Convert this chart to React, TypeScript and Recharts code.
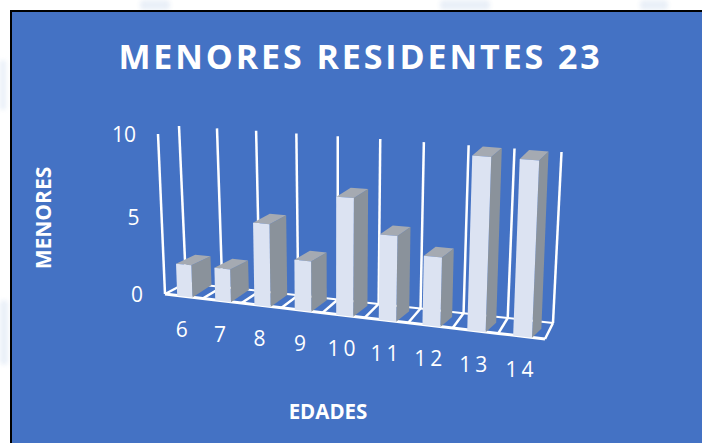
import { BarChart, Bar, XAxis, YAxis, CartesianGrid } from 'recharts'

const ages = ['6', '7', '8', '9', '10', '11', '12', '13', '14']
const counts = [2, 2, 5, 3, 7, 5, 4, 10, 10]
const valueTicks = [0, 5, 10]
const maxValue = 10

const chartData = ages.map((age, i) => ({ age, count: counts[i] }))

const W = 702
const H = 443
const PLOT_LEFT = 165
const PLOT_TOP = 134
const PLOT_W = 380
const PLOT_H = 160
const FONT = '"Open Sans", sans-serif'

// faint bits of the page watermark showing round the panel
const watermark = [
    { left: 640, top: 0, width: 28, height: 10 },
    { left: 440, top: 0, width: 50, height: 10 },
    { left: 140, top: 0, width: 30, height: 10 },
    { left: 0, top: 300, width: 8, height: 65 },
    { left: 0, top: 60, width: 6, height: 50 },
]

// flat plot position -> tilted 3D look of the original
const frontX = (u: number) => PLOT_LEFT + PLOT_W * (0.88 * u + 0.12 * u * u)
const frontY = (u: number) => 294 + (frontX(u) - PLOT_LEFT) * 0.1184
const lean = (u: number) => -7 + 15.5 * u
const toU = (x: number) => (x - PLOT_LEFT) / PLOT_W

function wall(u: number, v: number, d: number) {
    const f = v / maxValue
    const height = d === 1 ? 157 + 14 * u : 160 + 18 * u
    return {
        x: frontX(u) + d * (21 - 13 * u) + lean(u) * f,
        y: frontY(u) - d * (11 + 5 * u) - height * f,
    }
}

const pts = (list: { x: number; y: number }[]) => list.map(p => `${p.x},${p.y}`).join(' ')

function Box3D(props: any) {
    const { x, y, width } = props
    const v = ((PLOT_TOP + PLOT_H - y) / PLOT_H) * maxValue
    const u1 = toU(x)
    const u2 = toU(x + width)
    const corner = (u: number, val: number) => {
        const f = val / maxValue
        return {
            x: frontX(u) + 1 + lean(u) * f * 0.9,
            y: frontY(u) + 0.5 - (160 + 18 * u) * f,
        }
    }
    const dx = 20 - 11 * u2
    const dyTop = -9
    const dyBottom = -(13 - 4 * u2)
    const fl = corner(u1, 0)
    const fr = corner(u2, 0)
    const tl = corner(u1, v)
    const tr = corner(u2, v)
    const backTR = { x: tr.x + dx, y: tr.y + dyTop }
    const backTL = { x: tl.x + dx, y: tl.y + dyTop }
    const backBR = { x: fr.x + dx, y: fr.y + dyBottom }
    return (
        <g>
            <polygon points={pts([fr, tr, backTR, backBR])} fill="#8A929B" />
            <polygon points={pts([tl, tr, backTR, backTL])} fill="#A5AAB2" />
            <polygon points={pts([fl, fr, tr, tl])} fill="#DCE3F2" />
        </g>
    )
}

function GridUpright(props: any) {
    const u = toU(props.x1)
    const a = wall(u, 0, 1)
    const b = wall(u, maxValue, 1)
    const c = wall(u, 0, 0)
    const first = props.index === 0
    return (
        <g key={props.key} stroke="#FFFFFF" strokeWidth={2.5}>
            <line x1={a.x} y1={a.y} x2={b.x} y2={b.y} />
            <line x1={c.x} y1={c.y} x2={a.x} y2={a.y} />
            {first && <line x1={c.x} y1={c.y} x2={wall(0, maxValue, 0).x} y2={wall(0, maxValue, 0).y} />}
        </g>
    )
}

function GridFloor(props: any) {
    const steps = ages.map((_, i) => i / ages.length).concat(1)
    return (
        <g key={props.key} fill="none" stroke="#FFFFFF">
            <polyline points={pts(steps.map(u => wall(u, 0, 1)))} strokeWidth={2} />
            <polyline points={pts(steps.map(u => wall(u, 0, 0)))} strokeWidth={3} />
        </g>
    )
}

function AgeTick(props: any) {
    const u = toU(props.x)
    return (
        <text x={frontX(u)} y={frontY(u) + 41} textAnchor="middle" fill="#FFFFFF" fontFamily={FONT} fontSize={21} letterSpacing={4}>
            {props.payload.value}
        </text>
    )
}

function ValueTick(props: any) {
    const v = props.payload.value
    const p = wall(0, v, 0)
    return (
        <text x={p.x - 22} y={p.y + 8 + (v === 5 ? 3 : 0)} textAnchor="end" fill="#FFFFFF" fontFamily={FONT} fontSize={21}>
            {v}
        </text>
    )
}

export default function App() {
    return (
        <div style={{ position: 'absolute', left: 0, top: 0, width: W, height: H, overflow: 'hidden', background: '#FFFFFF' }}>
            {watermark.map((w, i) => (
                <div key={i} style={{ position: 'absolute', ...w, background: '#EAF0F8', borderRadius: 4, filter: 'blur(2px)' }} />
            ))}
            <div style={{ position: 'absolute', left: 10, top: 10, width: 720, height: 460, background: '#4472C4', border: '2px solid #000000', boxSizing: 'border-box' }} />
            <div style={{ position: 'absolute', left: 0, top: 0 }}>
                <BarChart
                    width={W}
                    height={H}
                    data={chartData}
                    barCategoryGap="30%"
                    margin={{ top: PLOT_TOP, right: W - PLOT_LEFT - PLOT_W, left: PLOT_LEFT - 60, bottom: H - PLOT_TOP - PLOT_H - 30 }}
                >
                    <CartesianGrid
                        vertical={GridUpright}
                        horizontal={GridFloor}
                        verticalCoordinatesGenerator={({ offset }: any) =>
                            [...ages.map((_, i) => (i * offset.width) / ages.length), offset.width].map(v => v + offset.left)
                        }
                        horizontalCoordinatesGenerator={({ offset }: any) => [offset.top + offset.height]}
                    />
                    <XAxis dataKey="age" interval={0} height={30} axisLine={false} tickLine={false} tick={AgeTick} />
                    <YAxis width={60} domain={[0, maxValue]} ticks={valueTicks} axisLine={false} tickLine={false} tick={ValueTick} />
                    <Bar dataKey="count" isAnimationActive={false} shape={Box3D} />
                    <text x={360.5} y={69} textAnchor="middle" fill="#FFFFFF" fontFamily={FONT} fontWeight={700} fontSize={34} letterSpacing={2.9}>
                        MENORES RESIDENTES 23
                    </text>
                    <text x={328} y={419} textAnchor="middle" fill="#FFFFFF" fontFamily={FONT} fontWeight={700} fontSize={20.5}>
                        EDADES
                    </text>
                    <text transform="translate(51 218) rotate(-90)" textAnchor="middle" fill="#FFFFFF" fontFamily={FONT} fontWeight={700} fontSize={21}>
                        MENORES
                    </text>
                </BarChart>
            </div>
        </div>
    )
}
